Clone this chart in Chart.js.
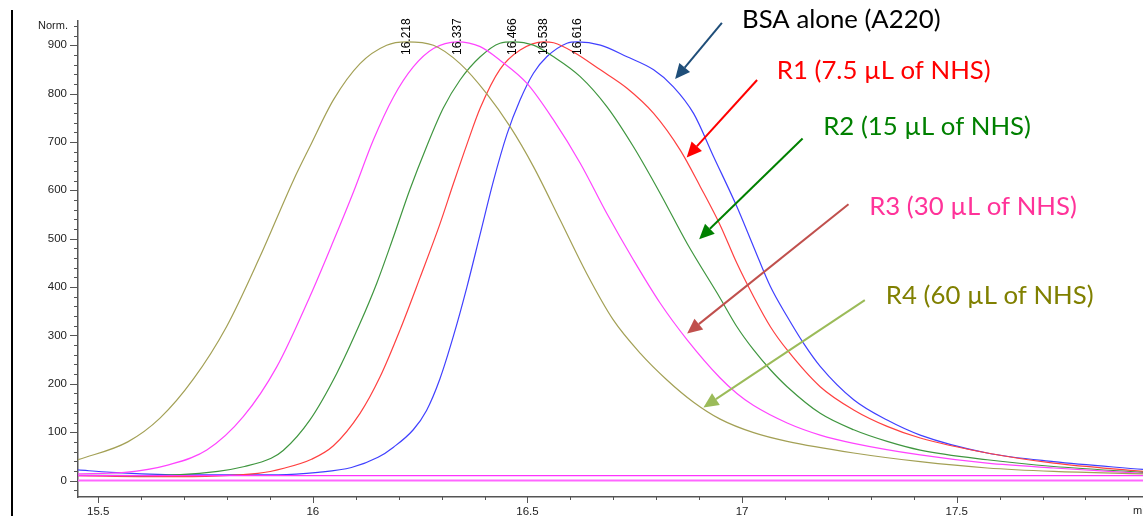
<!DOCTYPE html>
<html><head><meta charset="utf-8">
<script src="https://cdn.jsdelivr.net/npm/chart.js@4.4.1/dist/chart.umd.min.js"></script>
<style>
html,body{margin:0;padding:0;background:#fff;overflow:hidden}
#wrap{position:relative;width:1143px;height:516px}
#border{position:absolute;left:11px;top:10px;width:2px;height:506px;background:#000}
</style></head>
<body><div id="wrap"><div id="border"></div><canvas id="c"></canvas></div>
<script>
// ---- data (retention time in min, normalized signal) ----
const bsaTime = [15.453,15.530,15.686,15.919,16.012,16.090,16.152,16.188,16.234,16.265,16.296,16.328,16.359,16.390,16.421,16.452,16.483,16.514,16.545,16.592,16.616,16.670,16.732,16.794,16.840,16.887,16.934,16.988,17.027,17.066,17.105,17.143,17.182,17.260,17.338,17.415,17.571,17.726,17.934];
const bsaNorm = [22,17,12,12,17,27,48,69,105,145,210,300,400,510,620,715,787,842,876,904,907,900,876,849,814,759,669,566,483,401,339,284,236,167,125,94,57,39,23];

const r1Time = [15.453,15.650,15.872,15.935,15.997,16.048,16.110,16.157,16.203,16.250,16.296,16.328,16.359,16.390,16.436,16.483,16.538,16.561,16.607,16.670,16.732,16.794,16.856,16.903,16.949,16.988,17.027,17.066,17.105,17.182,17.260,17.338,17.415,17.571,17.726,17.934];
const r1Norm = [10,8,15,26,44,72,139,215,311,420,530,615,695,770,850,890,907,905,886,849,811,759,683,607,528,449,380,318,270,194,146,112,88,57,36,19];

const r2Time = [15.453,15.600,15.779,15.841,15.903,15.931,15.993,16.056,16.110,16.149,16.188,16.226,16.265,16.304,16.343,16.390,16.436,16.466,16.514,16.561,16.623,16.685,16.747,16.809,16.872,16.949,16.988,17.027,17.066,17.105,17.182,17.260,17.338,17.415,17.571,17.726,17.934];
const r2Norm = [11,10,19,29,46,62,125,222,325,408,504,601,690,770,828,876,904,907,900,876,835,773,690,594,490,377,318,270,229,194,139,105,81,63,43,29,17];

const r3Time = [15.453,15.562,15.662,15.753,15.838,15.916,15.993,16.048,16.094,16.141,16.188,16.234,16.281,16.337,16.390,16.436,16.499,16.561,16.623,16.685,16.747,16.809,16.872,16.949,16.988,17.027,17.105,17.182,17.260,17.415,17.571,17.726,17.934];
const r3Norm = [14,17,32,63,132,235,380,495,595,704,793,855,893,907,897,869,821,745,656,552,456,367,291,212,180,155,119,94,77,53,36,26,15];

const r4Time = [15.453,15.569,15.644,15.722,15.799,15.877,15.955,15.993,16.048,16.110,16.172,16.218,16.281,16.343,16.405,16.460,16.514,16.576,16.638,16.700,16.763,16.825,16.887,16.949,17.027,17.105,17.260,17.415,17.571,17.726,17.934];
const r4Norm = [43,80,129,210,318,463,621,690,787,862,900,907,900,862,800,731,649,539,428,332,263,208,162,127,99,81,57,39,26,19,14];

const baseTime = [15.453, 17.934];
const baseHigh = [10, 10];
const baseLow = [0, 0];

const peakTimes = [16.218, 16.337, 16.466, 16.538, 16.616];
const peakLabels = ['16.218', '16.337', '16.466', '16.538', '16.616'];

const xTickLabels = ['15.5', '16', '16.5', '17', '17.5'];
const yTickLabels = ['0', '100', '200', '300', '400', '500', '600', '700', '800', '900'];

// callouts (in data units: time, norm)
const calloutText = ['BSA alone (A220)', 'R1 (7.5 µL of NHS)', 'R2 (15 µL of NHS)', 'R3 (30 µL of NHS)', 'R4 (60 µL of NHS)'];
const calloutX = [17.000, 17.081, 17.189, 17.296, 17.335];
const calloutY = [952, 847, 731, 566, 382];
const arrowFromX = [16.953, 17.035, 17.141, 17.248, 17.286];
const arrowFromY = [946, 828, 707, 571, 373];
const arrowToX = [16.844, 16.871, 16.900, 16.872, 16.910];
const arrowToY = [830, 668, 499, 304, 151];

const textColors = ['#000000', '#ff0000', '#008000', '#ff3399', '#808000'];
const arrowColors = ['#1f4e79', '#ff0000', '#008000', '#c0504d', '#9bbb59'];

const AXFONT = "'Liberation Sans', Arial, sans-serif";

function pts(t, v) { return t.map((x, i) => ({x: x, y: v[i]})); }
function line(label, t, v, color, w) {
  return {label, data: pts(t, v), borderColor: color, borderWidth: w || 1.2, pointRadius: 0,
    fill: false, cubicInterpolationMode: 'monotone', showLine: true};
}

function drawArrow(ctx, x1, y1, x2, y2, color) {
  const a = Math.atan2(y2 - y1, x2 - x1);
  const hl = 15, hw = 7;
  const bx = x2 - hl * Math.cos(a), by = y2 - hl * Math.sin(a);
  ctx.strokeStyle = color; ctx.lineWidth = 2;
  ctx.beginPath(); ctx.moveTo(x1, y1); ctx.lineTo(bx, by); ctx.stroke();
  ctx.fillStyle = color;
  ctx.beginPath(); ctx.moveTo(x2, y2);
  ctx.lineTo(bx + hw * Math.sin(a), by - hw * Math.cos(a));
  ctx.lineTo(bx - hw * Math.sin(a), by + hw * Math.cos(a));
  ctx.closePath(); ctx.fill();
}

const extras = {
  id: 'extras',
  afterDraw(chart) {
    const ctx = chart.ctx, xs = chart.scales.x, ys = chart.scales.y, ca = chart.chartArea;
    ctx.save();
    // minor / major tick marks
    ctx.strokeStyle = '#555'; ctx.lineWidth = 1;
    for (let v = -20; v <= 940; v += 20) {
      const p = Math.round(ys.getPixelForValue(v)) + 0.5;
      const len = (v % 100 === 0) ? 8 : 4;
      ctx.beginPath(); ctx.moveTo(ca.left - len, p); ctx.lineTo(ca.left, p); ctx.stroke();
    }
    for (let k = 155; k <= 179; k++) {
      const v = k / 10;
      const p = Math.round(xs.getPixelForValue(v)) + 0.5;
      const len = (k % 5 === 0) ? 6 : 3;
      ctx.beginPath(); ctx.moveTo(p, ca.bottom); ctx.lineTo(p, ca.bottom + len); ctx.stroke();
    }
    // axis titles
    ctx.fillStyle = '#222';
    ctx.font = '11px ' + AXFONT;
    ctx.textAlign = 'right'; ctx.textBaseline = 'middle';
    ctx.fillText('Norm.', 68, ca.top + 5);
    ctx.textAlign = 'left';
    ctx.fillText('min', 1133, 511);
    // peak labels
    ctx.font = '12px ' + AXFONT;
    ctx.fillStyle = '#000';
    peakTimes.forEach((t, i) => {
      const px = xs.getPixelForValue(t);
      ctx.save();
      ctx.translate(px, 55);
      ctx.rotate(-Math.PI / 2);
      ctx.textAlign = 'left'; ctx.textBaseline = 'middle';
      ctx.fillText(peakLabels[i], 0, 0);
      ctx.restore();
    });
    // callouts
    ctx.font = '100px Lato';
    const w = ctx.measureText(calloutText[1]).width;
    const fs = 100 * 214 / w;
    ctx.font = fs.toFixed(2) + 'px Lato';
    ctx.textAlign = 'left'; ctx.textBaseline = 'middle';
    calloutText.forEach((txt, i) => {
      ctx.fillStyle = textColors[i];
      ctx.fillText(txt, xs.getPixelForValue(calloutX[i]), ys.getPixelForValue(calloutY[i]));
      drawArrow(ctx, xs.getPixelForValue(arrowFromX[i]), ys.getPixelForValue(arrowFromY[i]),
        xs.getPixelForValue(arrowToX[i]), ys.getPixelForValue(arrowToY[i]), arrowColors[i]);
    });
    ctx.restore();
  }
};

new Chart(document.getElementById('c'), {
  type: 'scatter',
  data: {
    datasets: [
      line('baseline 10', baseTime, baseHigh, '#ff33ff', 1.3),
      line('baseline 0', baseTime, baseLow, '#ff66ff', 2),
      line('R4 (60 µL of NHS)', r4Time, r4Norm, '#a3a055'),
      line('R3 (30 µL of NHS)', r3Time, r3Norm, '#ff44ff'),
      line('R2 (15 µL of NHS)', r2Time, r2Norm, '#3f963f'),
      line('R1 (7.5 µL of NHS)', r1Time, r1Norm, '#ff4040'),
      line('BSA alone (A220)', bsaTime, bsaNorm, '#4040ff')
    ]
  },
  options: {
    responsive: true, maintainAspectRatio: false, animation: false,
    layout: {padding: {top: 21, left: 0, right: 0, bottom: 0}},
    plugins: {legend: {display: false}, tooltip: {enabled: false}},
    scales: {
      x: {
        type: 'linear', min: 15.453, max: 17.934,
        ticks: {stepSize: 0.5, includeBounds: false, autoSkip: false, maxRotation: 0, padding: 8,
          color: '#222', font: {family: AXFONT, size: 11.5},
          callback: (v, i) => xTickLabels[i]},
        grid: {display: false, drawTicks: false},
        border: {display: true, color: '#555', width: 1.5},
        afterFit: s => { s.height = 19; s.paddingLeft = 0; s.paddingRight = 0; }
      },
      y: {
        type: 'linear', min: -34, max: 950,
        ticks: {stepSize: 100, includeBounds: false, padding: 11,
          color: '#222', font: {family: AXFONT, size: 11.5},
          callback: (v, i) => yTickLabels[i]},
        grid: {display: false, drawTicks: false},
        border: {display: true, color: '#555', width: 1.5},
        afterFit: s => { s.width = 78; s.paddingTop = 0; s.paddingBottom = 0; }
      }
    }
  },
  plugins: [extras]
});
</script>
</body></html>
